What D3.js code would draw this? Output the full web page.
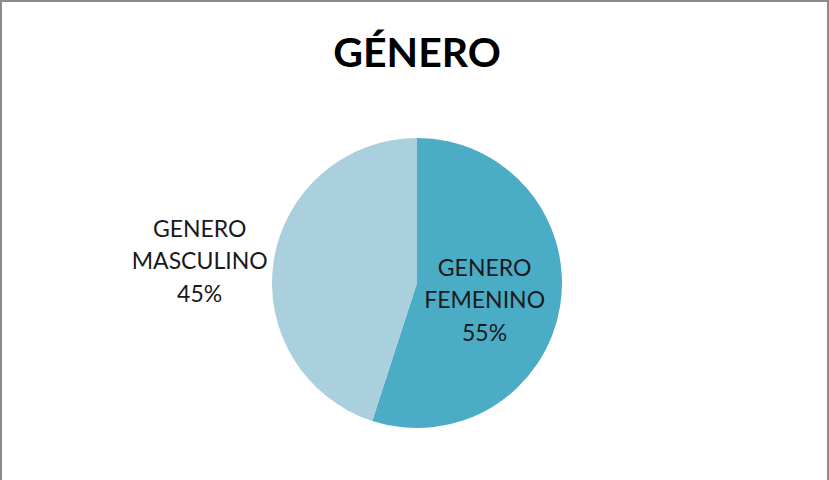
<!DOCTYPE html>
<html lang="es">
<head>
  <meta charset="UTF-8">
  <title>Género</title>
  <script src="https://d3js.org/d3.v7.min.js"></script>
  <style>
    body { margin: 0; background: #fff; }
    svg text { font-family: Lato, "Open Sans", sans-serif; }
  </style>
</head>
<body>
  <div id="chart"></div>

  <script>
    const categories = ["GENERO FEMENINO", "GENERO MASCULINO"];
    const values = [55, 45];
    const colors = ["#4BACC6", "#AACFDD"];

    const width = 829, height = 480;
    const cx = 417, cy = 283, radius = 145;

    const svg = d3.select("#chart").append("svg")
      .attr("width", width)
      .attr("height", height);

    // marco del gráfico
    svg.append("rect")
      .attr("x", 1).attr("y", 1)
      .attr("width", width - 2).attr("height", height + 10)
      .attr("fill", "#fff")
      .attr("stroke", "#8c8c8c")
      .attr("stroke-width", 2);

    svg.append("text")
      .attr("x", 417).attr("y", 67)
      .attr("text-anchor", "middle")
      .attr("font-size", 41)
      .attr("font-weight", "bold")
      .attr("fill", "#000")
      .text("GÉNERO");

    const data = categories.map((c, i) => ({ name: c, value: values[i], color: colors[i] }));

    const pie = d3.pie().sort(null).value(d => d.value);
    const arc = d3.arc().innerRadius(0).outerRadius(radius);
    const arcs = pie(data);

    const g = svg.append("g").attr("transform", `translate(${cx},${cy})`);

    g.selectAll("path")
      .data(arcs)
      .enter()
      .append("path")
      .attr("d", arc)
      .attr("fill", d => d.data.color);

    // etiquetas: femenino dentro, masculino fuera a la izquierda
    const labelArcIn = d3.arc().innerRadius(radius * 0.5).outerRadius(radius * 0.5);
    const labelPos = d => {
      if (d.index === 0) {
        const [x, y] = labelArcIn.centroid(d);
        return [x - 4, y + 6];
      }
      const mid = (d.startAngle + d.endAngle) / 2;
      return [Math.sin(mid) * (radius + 72) - 3, -Math.cos(mid) * (radius + 72) + 12];
    };

    g.selectAll("g.label")
      .data(arcs)
      .enter()
      .append("g")
      .attr("class", "label")
      .each(function(d) {
        const [x, y] = labelPos(d);
        const words = d.data.name.split(" ");
        const lines = [words[0], words[1], d.data.value + "%"];
        const t = d3.select(this).append("text")
          .attr("text-anchor", "middle")
          .attr("font-size", 23)
          .attr("fill", "#1a1a1a");
        lines.forEach((l, i) => {
          t.append("tspan")
            .attr("x", x)
            .attr("y", y + (i - 1) * 32.5 + 8)
            .text(l);
        });
      });
  </script>
</body>
</html>
